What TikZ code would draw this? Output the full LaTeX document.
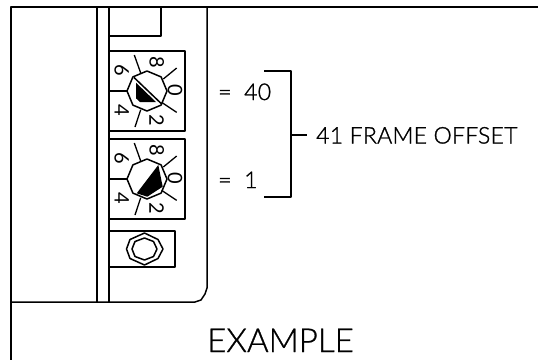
\documentclass[tikz,border=0pt]{standalone}
\usepackage{fontspec}
\setmainfont{Lato}
\newfontfamily\thinfont[LetterSpace=1.2,FakeBold=1.2]{Lato Light}
\newfontfamily\bigfont[LetterSpace=0.2,FakeBold=0.8]{Lato Light}
\tikzset{
  ln/.style={line width=1.5pt,black,line join=round},
  tick/.style={line width=1.3pt,black},
  lab/.style={inner sep=0pt,anchor=base west,font=\thinfont\fontsize{23}{23}\selectfont},
  big/.style={inner sep=0pt,anchor=base west,font=\bigfont\fontsize{33}{33}\selectfont},
  dig/.style={inner sep=0pt,rotate=-90,font=\fontsize{20}{20}\selectfont},
}
\newcommand{\dial}[2]{%
  \begin{scope}[shift={(#1,#2)}]
    \draw[ln] (20,0)--(14.1,14.1)--(0,20)--(-14.1,14.1)--(-20,0)--(-14.1,-14.1)--(0,-20)--(14.1,-14.1)--cycle;
    \draw[tick] (-20,0)--(-38,0);
    \draw[tick] (-6.3,-18)--(-12.7,-36);
    \draw[tick] (16.3,-12)--(29.7,-23);
    \draw[tick] (14.7,11.4)--(29.7,21.4);
    \draw[tick] (-6.3,18.7)--(-12,36);
    \node[dig] at (9.7,-28.3) {8};
    \node[dig] at (28,-1) {0};
    \node[dig] at (9.7,29.7) {2};
    \node[dig] at (-25.3,-20.3) {6};
    \node[dig] at (-25.3,19.7) {4};
  \end{scope}}
\begin{document}
\begin{tikzpicture}[x=1pt,y=-1pt]
\useasboundingbox (0,0) rectangle (538,360);
\fill[white] (0,0) rectangle (538,360);
% frame
\draw[ln] (538,7)--(11,7)--(11,360);
\draw[ln] (11,302)--(195,302)--(201,300)--(205,294)--(207,288)--(207,7);
\draw[ln] (97,7)--(97,302);
\draw[ln] (109,7)--(109,302);
\draw[ln] (161,7)--(161,36)--(109,36);
% dial boxes
\draw[ln] (109,51)--(185,51)--(185,131)--(109,131);
\draw[ln] (109,139)--(185,139)--(185,219)--(109,219);
\draw[ln] (109,231)--(175,231)--(175,267)--(109,267);
% dials
\dial{147}{91}
\dial{147}{179}
% pointers
\fill[black] (136,82.7)--(136,98.3)--(140,102)--(156,102)--cycle;
\draw[ln] (134,77.5)--(161.7,104);
\fill[black] (158.3,165)--(162.7,186.7)--(147.3,196.7)--(136.7,193.3)--cycle;
% small hex
\draw[ln] (126.5,249)--(130,239.5)--(144.5,233)--(158,239.5)--(163,249)--(158,258.5)--(144.5,265)--(130,258.5)--cycle;
\draw[ln] (132,249)--(135,241.5)--(144.5,238)--(153.5,241.5)--(157,249)--(153.5,256.5)--(144.5,260)--(135,256.5)--cycle;
% bracket
\draw[ln] (264,71)--(291,71)--(291,197)--(264,197);
\draw[ln] (291,135)--(307,135);
% labels
\node[lab] (a) at (218,100) {=\hspace{.55em}40};
\node[lab] (b) at (218,188) {=\hspace{.55em}1};
\node[lab] (c) at (316,143.5) {41 FRAME OFFSET};
\node[big] (d) at (207,352) {EXAMPLE};
\end{tikzpicture}
\end{document}
